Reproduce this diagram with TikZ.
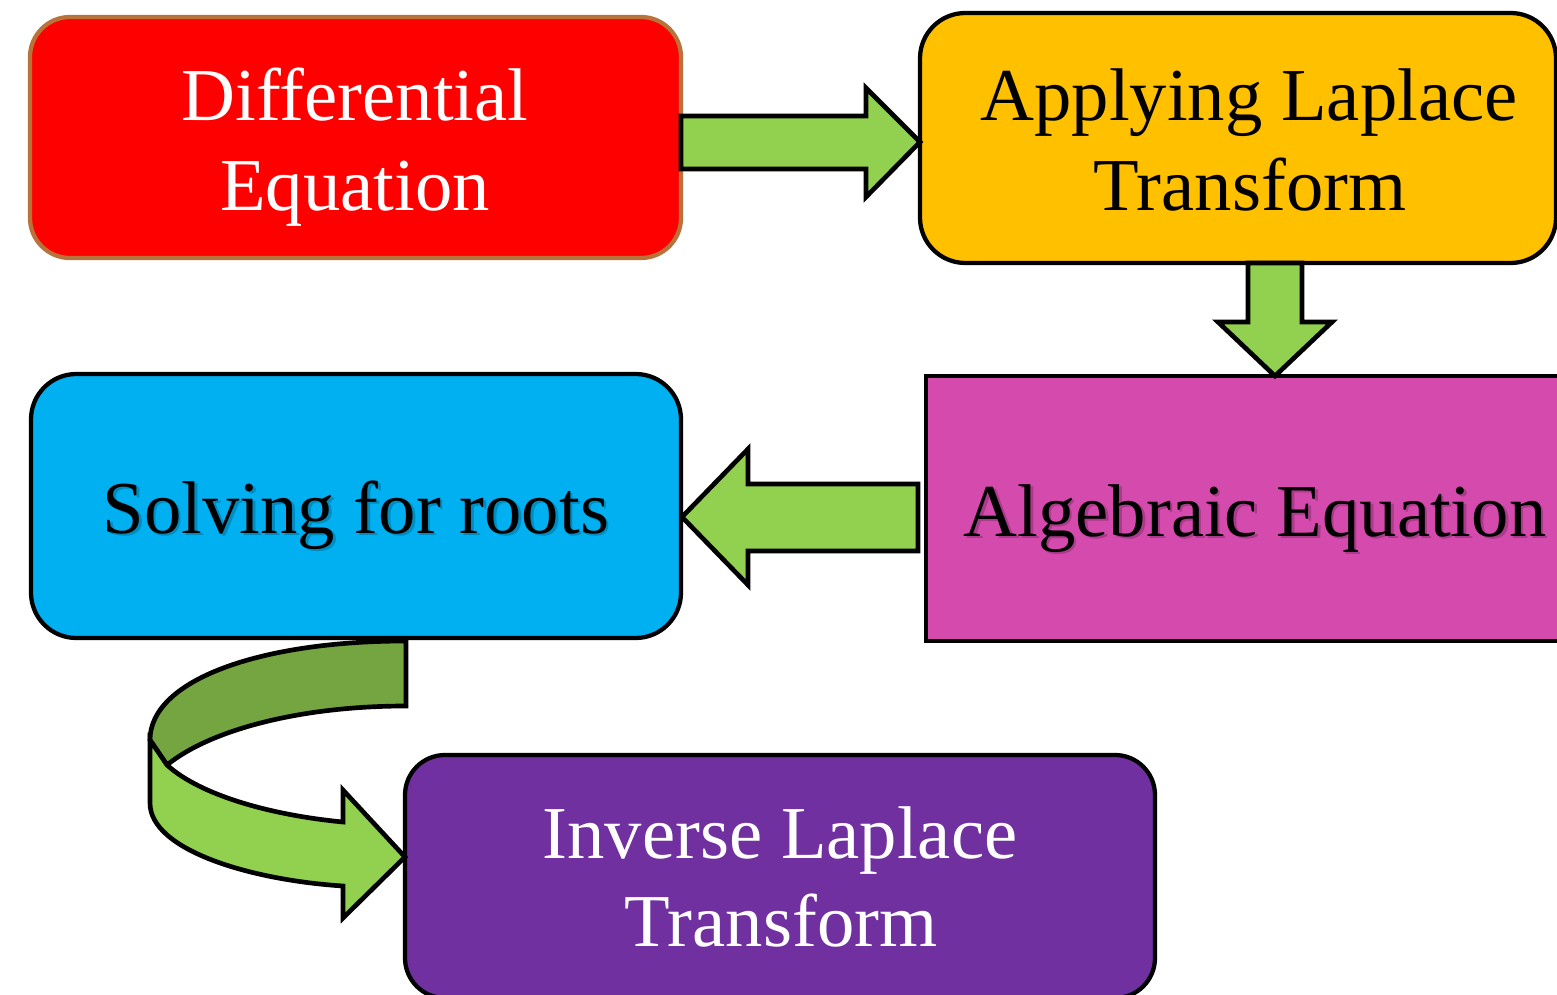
\documentclass[tikz,border=0pt]{standalone}
\usepackage{fontspec}
\setmainfont{Liberation Serif}
\usetikzlibrary{calc}
\definecolor{cRed}{HTML}{FF0000}
\definecolor{cBrown}{HTML}{B9733A}
\definecolor{cYellow}{HTML}{FFC000}
\definecolor{cMagenta}{HTML}{D54AAD}
\definecolor{cBlue}{HTML}{00B0F0}
\definecolor{cPurple}{HTML}{7030A0}
\definecolor{cGreen}{HTML}{92D050}
\definecolor{cDkGreen}{HTML}{75A541}
\begin{document}
\begin{tikzpicture}[x=0.75pt,y=-0.75pt,
  box/.style={draw=black, line width=3.2pt, inner sep=0pt, outer sep=0pt},
  lbl/.style={font=\fontsize{56}{67}\selectfont, anchor=base, inner sep=0pt, outer sep=0pt},
  shd/.style={lbl, text=black, opacity=0.2},
  arr/.style={draw=black, line width=3.5pt, fill=cGreen, line join=miter, miter limit=10}
]
\useasboundingbox (0,0) rectangle (1557,995);
\clip (0,0) rectangle (1557,995);

% boxes
\node[box, draw=cBrown, fill=cRed, rounded corners=30pt,
      minimum width=488.25pt, minimum height=180.75pt] (b1) at (355.5,137.5) {};
\node[box, fill=cYellow, rounded corners=34pt,
      minimum width=477pt, minimum height=187.5pt] (b2) at (1238,138) {};
\node[box, fill=cMagenta,
      minimum width=505.5pt, minimum height=198.75pt] (b3) at (1263,508.5) {};
\node[box, fill=cBlue, rounded corners=34pt,
      minimum width=487.5pt, minimum height=198pt] (b4) at (356,506) {};
\node[box, fill=cPurple, rounded corners=30pt,
      minimum width=562.5pt, minimum height=182.25pt] (b5) at (780,876.5) {};

% block arrows
\draw[arr] ($(b1.east)+(0,-21.5)$) -- (866,116) -- (866,88) -- ($(b2.west)+(0,4)$)
  -- (866,197) -- (866,169) -- ($(b1.east)+(0,31.5)$) -- cycle;
\draw[arr] ($(b2.south)+(10,0)$) -- ($(b2.south)+(64,0)$) -- (1302,322) -- (1332,322)
  -- ($(b3.north)+(12,0)$) -- (1218,322) -- (1248,322) -- cycle;
\draw[arr] ($(b3.west)+(-8,-24.5)$) -- (748,484) -- (748,449) -- ($(b4.east)+(1,11)$)
  -- (748,585) -- (748,551) -- ($(b3.west)+(-8,42.5)$) -- cycle;

% curved arrow
\coordinate (c0) at ($(b4.south)+(50,3)$);
\coordinate (c1) at ($(b4.south)+(50,68)$);
\draw[arr, fill=cDkGreen] (c0) .. controls (260,641) and (150,680) .. (150,740)
  -- (167,765) .. controls (210,730) and (300,706) .. (c1) -- cycle;
\draw[arr] (150,740) -- (167,765) .. controls (200,795) and (270,815) .. (343,822)
  -- (343,790) -- ($(b5.west)+(0,-19.5)$) -- (343,918) -- (343,886)
  .. controls (250,880) and (150,850) .. (150,803) -- cycle;

% texts
\node[lbl, text=white] (t1a) at (355,121) {Differential};
\node[lbl, text=white] (t1b) at (355,210) {Equation};
\node[lbl] (t2a) at (1249,121) {Applying Laplace};
\node[lbl] (t2b) at (1250,210) {Transform};
\node[shd] (t3s) at (1257.5,538.5) {Algebraic Equation};
\node[lbl] (t3) at (1255,536) {Algebraic Equation};
\node[shd] (t4s) at (358.5,535.5) {Solving for roots};
\node[lbl] (t4) at (356,533) {Solving for roots};
\node[lbl, text=white] (t5a) at (780,858) {Inverse Laplace};
\node[lbl, text=white] (t5b) at (781,946) {Transform};
\end{tikzpicture}
\end{document}
